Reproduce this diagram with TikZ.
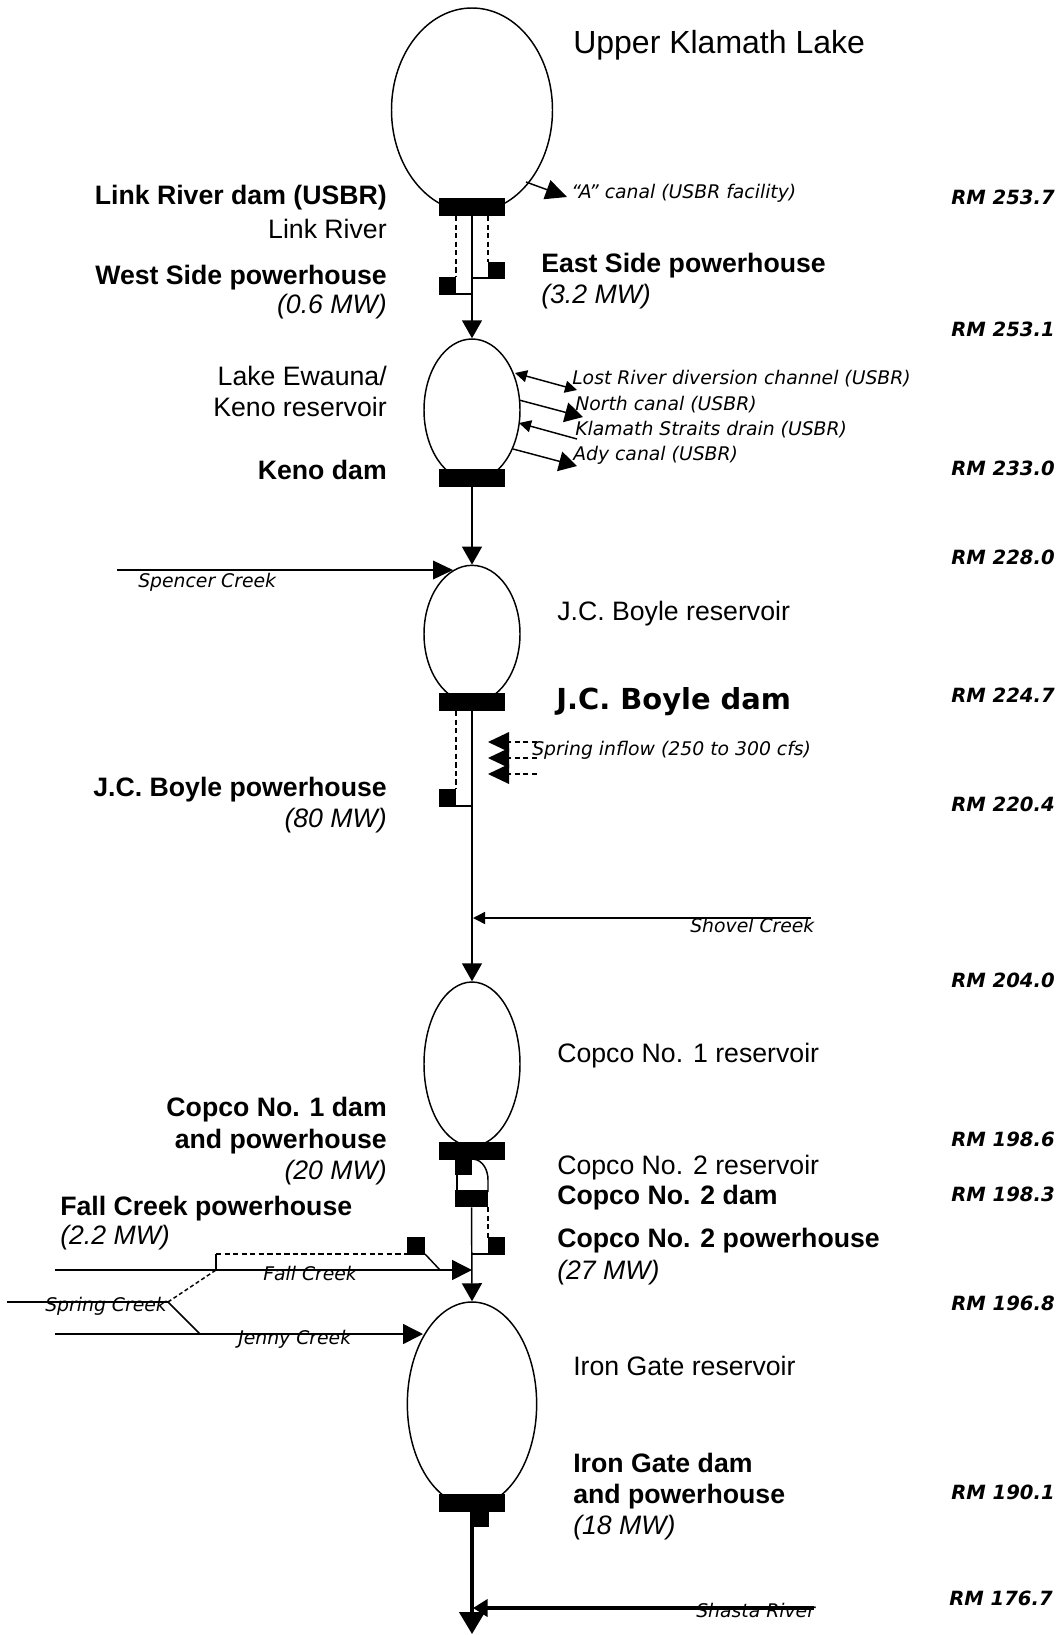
\documentclass[tikz,border=0pt]{standalone}
\usepackage{fontspec}
\setmainfont{Liberation Sans}
\newfontfamily\dejafont{DejaVu Sans}
\usetikzlibrary{arrows.meta,shapes.geometric}
\tikzset{
  lbl/.style={inner sep=0pt},
  b/.style={lbl,text height=14.4pt,text depth=0pt,font=\fontsize{20}{22}\selectfont\bfseries},
  r/.style={lbl,text height=14.4pt,text depth=0pt,font=\fontsize{20}{22}\selectfont},
  it/.style={lbl,text height=14.4pt,text depth=0pt,font=\fontsize{20}{22}\selectfont\itshape},
  canal/.style={lbl,text height=10.2pt,text depth=0pt,font=\dejafont\fontsize{14.1}{16}\selectfont\itshape},
  rm/.style={lbl,anchor=west,text height=10.8pt,text depth=0pt,font=\dejafont\fontsize{14.7}{16}\selectfont\bfseries\itshape},
  lake/.style={draw,ellipse,line width=1.1pt,inner sep=0pt,fill=white},
  dam/.style={fill=black,inner sep=0pt,minimum width=49.5pt,minimum height=13.5pt},
  ph/.style={fill=black,inner sep=0pt,minimum width=13pt,minimum height=13pt},
  ln/.style={line width=1.1pt},
  dsh/.style={line width=1.1pt,dash pattern=on 4pt off 2.4pt},
  big/.style={ln,-{Triangle[length=13.5pt,width=15pt]}},
  med/.style={ln,-{Triangle[length=9pt,width=9pt]}},
  dbl/.style={ln,{Triangle[length=9pt,width=9pt]}-{Triangle[length=9pt,width=9pt]}},
}
\begin{document}
\begin{tikzpicture}[x=0.75pt,y=-0.75pt]
\useasboundingbox (0,0) rectangle (1057,1635);
% lakes
\node[lake,minimum width=120.75pt,minimum height=153pt] (upper) at (472,110) {};
\node[lake,minimum width=72pt,minimum height=106.5pt] (ewauna) at (472,410) {};
\node[lake,minimum width=72pt,minimum height=103pt] (boyle) at (472,634) {};
\node[lake,minimum width=72pt,minimum height=123pt] (copco) at (472,1064) {};
\node[lake,minimum width=97pt,minimum height=153pt] (iron) at (472,1404) {};
% dams
\node[dam] (d1) at (472,207) {};
\node[dam] (d2) at (472,478) {};
\node[dam] (d3) at (472,702) {};
\node[dam] (d4) at (472,1150.5) {};
\node[dam] (d6) at (472,1502.5) {};
\node[fill=black,inner sep=0pt,minimum width=25pt,minimum height=13pt] (d5) at (471.5,1198.5) {};
% powerhouses
\node[ph] (pw) at (447.5,286) {};
\node[ph] (pe) at (496.5,270.5) {};
\node[ph] (pb) at (447.5,798) {};
\node[ph] (pc1) at (463.5,1166.5) {};
\node[ph] (pc2) at (496.5,1246) {};
\node[ph] (pf) at (416,1246) {};
\node[ph] (pi) at (480,1518.5) {};
% Link River
\draw[dsh] (456,216) -- (456,277);
\draw[dsh] (488,216) -- (488,262);
\draw[ln] (456,294) -- (472,294);
\draw[ln] (488,278) -- (472,278);
\draw[big] (d1) -- (ewauna.north);
% A canal
\coordinate (a0) at (526,182);
\coordinate (a1) at (567,197);
\draw[ln,-{Triangle[length=16pt,width=15pt]}] (a0) -- (a1);
% Ewauna branches
\coordinate (l0) at (515,373); \coordinate (l1) at (577,390);
\coordinate (n0) at (519,400); \coordinate (n1) at (583,417);
\coordinate (k0) at (577,439); \coordinate (k1) at (519,423);
\coordinate (ad0) at (513,449); \coordinate (ad1) at (577,466);
\draw[dbl] (l0) -- (l1);
\draw[big] (n0) -- (n1);
\draw[med] (k0) -- (k1);
\draw[big] (ad0) -- (ad1);
% Keno to Boyle
\draw[big] (d2) -- (boyle.north);
\coordinate (sp0) at (117,570); \coordinate (sp1) at (453,570);
\draw[ln,-{Triangle[length=15pt,width=14pt]}] (sp0) -- (sp1);
% JC Boyle
\draw[dsh] (456,711) -- (456,789);
\draw[ln] (456,806) -- (472,806);
\draw[big] (d3) -- (copco.north);
\foreach \yy/\nm in {742/s1,758/s2,774/s3}{
  \coordinate (\nm a) at (537,\yy);
  \coordinate (\nm b) at (488,\yy);
  \draw[dsh] (\nm a) -- (509,\yy);
  \fill (\nm b) -- (509,\yy-10) -- (509,\yy+10) -- cycle;
}
% Shovel
\coordinate (sh0) at (811,918); \coordinate (sh1) at (473,918);
\draw[med] (sh0) -- (sh1);
% Copco
\draw[ln] (457,1175) -- (457,1192);
\draw[ln] (473,1159) .. controls (483,1160) and (488,1170) .. (488,1180) -- (488,1192);
\draw[dsh] (488,1207) -- (488,1238);
\draw[ln] (472,1254) -- (488,1254);
\draw[big] (d5) -- (iron.north);
% Fall creek
\coordinate (f0) at (55,1270); \coordinate (f1) at (472,1270);
\draw[ln,-{Triangle[length=15pt,width=15pt]}] (f0) -- (f1);
\coordinate (f2) at (216,1270); \coordinate (f3) at (216,1254);
\draw[ln] (f2) -- (f3);
\draw[dsh] (f3) -- (407,1254);
\draw[ln] (425,1254) -- (440,1270);
\coordinate (sc0) at (7,1302); \coordinate (sc1) at (168,1302);
\draw[ln] (sc0) -- (sc1);
\draw[line width=1.1pt,dash pattern=on 3pt off 2pt] (sc1) -- (f2);
\coordinate (j0) at (55,1334); \coordinate (j1) at (423,1334);
\draw[ln] (sc1) -- (200,1334);
\draw[ln,-{Triangle[length=15pt,width=15pt]}] (j0) -- (j1);
% Iron Gate out
\coordinate (e1) at (472,1634);
\coordinate (sa0) at (814,1608); \coordinate (sa1) at (473,1608);
\draw[line width=2.4pt,-{Triangle[length=16.5pt,width=19pt]}] (d6) -- (e1);
\draw[line width=2.4pt,-{Triangle[length=11pt,width=13pt]}] (sa0) -- (sa1);
% Labels
\node[lbl,anchor=west,text height=17.2pt,text depth=0pt,font=\fontsize{24}{26}\selectfont] (t1) at (573,42) {Upper Klamath Lake};
\node[b,anchor=east] (t2) at (387,195) {Link River dam (USBR)};
\node[r,anchor=east] (t3) at (387,229) {Link River};
\node[b,anchor=east] (t4) at (387,275) {West Side powerhouse};
\node[it,anchor=east] (t5) at (387,304) {(0.6 MW)};
\node[b,anchor=west] (t6) at (541,263) {East Side powerhouse};
\node[it,anchor=west] (t7) at (541,294) {(3.2 MW)};
\node[canal,anchor=west] (t8) at (571,192) {“A” canal (USBR facility)};
\node[r,anchor=east] (t9) at (387,376) {Lake Ewauna/};
\node[r,anchor=east] (t10) at (387,407) {Keno reservoir};
\node[b,anchor=east] (t11) at (387,470) {Keno dam};
\node[canal,anchor=west] (t12) at (572,378) {Lost River diversion channel (USBR)};
\node[canal,anchor=west] (t13) at (575,404) {North canal (USBR)};
\node[canal,anchor=west] (t14) at (575,429) {Klamath Straits drain (USBR)};
\node[canal,anchor=west] (t15) at (573,454) {Ady canal (USBR)};
\node[canal,anchor=west] (t16) at (138,581) {Spencer Creek};
\node[r,anchor=west] (t17) at (557,611) {J.C. Boyle reservoir};
\node[lbl,anchor=west,text height=16pt,text depth=0pt,font=\dejafont\fontsize{21.7}{24}\selectfont\bfseries] (t18) at (556,699) {J.C. Boyle dam};
\node[canal,anchor=west] (t19) at (532,749) {Spring inflow (250 to 300 cfs)};
\node[b,anchor=east] (t20) at (387,787) {J.C. Boyle powerhouse};
\node[it,anchor=east] (t21) at (387,818) {(80 MW)};
\node[canal,anchor=west] (t22) at (690,926) {Shovel Creek};
\node[r,anchor=west] (t23) at (557,1053) {Copco No. 1 reservoir};
\node[b,anchor=east] (t24) at (387,1107) {Copco No. 1 dam};
\node[b,anchor=east] (t25) at (387,1139) {and powerhouse};
\node[it,anchor=east] (t26) at (387,1170) {(20 MW)};
\node[r,anchor=west] (t27) at (557,1165) {Copco No. 2 reservoir};
\node[b,anchor=west] (t28) at (557,1195) {Copco No. 2 dam};
\node[b,anchor=west] (t29) at (557,1238) {Copco No. 2 powerhouse};
\node[it,anchor=west] (t30) at (557,1270) {(27 MW)};
\node[b,anchor=west] (t31) at (60,1206) {Fall Creek powerhouse};
\node[it,anchor=west] (t32) at (60,1235) {(2.2 MW)};
\node[canal,anchor=west] (t33) at (263,1274) {Fall Creek};
\node[canal,anchor=west] (t34) at (45,1305) {Spring Creek};
\node[canal,anchor=west] (t35) at (238,1338) {Jenny Creek};
\node[r,anchor=west] (t36) at (573,1366) {Iron Gate reservoir};
\node[b,anchor=west] (t37) at (573,1463) {Iron Gate dam};
\node[b,anchor=west] (t38) at (573,1494) {and powerhouse};
\node[it,anchor=west] (t39) at (573,1525) {(18 MW)};
\node[canal,anchor=west] (t40) at (696,1611) {Shasta River};
\node[rm] (m1) at (951,197) {RM 253.7};
\node[rm] (m2) at (951,329) {RM 253.1};
\node[rm] (m3) at (951,468) {RM 233.0};
\node[rm] (m4) at (951,557) {RM 228.0};
\node[rm] (m5) at (951,695) {RM 224.7};
\node[rm] (m6) at (951,804) {RM 220.4};
\node[rm] (m7) at (951,980) {RM 204.0};
\node[rm] (m8) at (951,1139) {RM 198.6};
\node[rm] (m9) at (951,1194) {RM 198.3};
\node[rm] (m10) at (951,1303) {RM 196.8};
\node[rm] (m11) at (951,1492) {RM 190.1};
\node[rm] (m12) at (949,1598) {RM 176.7};
\end{tikzpicture}
\end{document}
